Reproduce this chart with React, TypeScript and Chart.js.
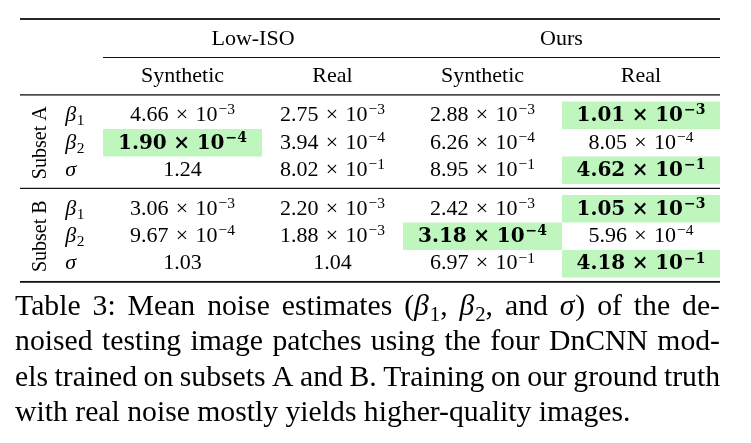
import { useEffect, useRef } from 'react';
import { Chart, registerables } from 'chart.js';

Chart.register(...registerables);

// ---------- data ----------
const groupLabels = ['Low-ISO', 'Ours'];
const columnLabels = ['Synthetic', 'Real', 'Synthetic', 'Real'];
const subsetLabels = ['Subset A', 'Subset B'];
const paramLabels = ['β_1', 'β_2', 'σ'];

const subsetA_beta1 = [4.66e-3, 2.75e-3, 2.88e-3, 1.01e-3];
const subsetA_beta2 = [1.90e-4, 3.94e-4, 6.26e-4, 8.05e-4];
const subsetA_sigma = [1.24, 8.02e-1, 8.95e-1, 4.62e-1];
const subsetB_beta1 = [3.06e-3, 2.20e-3, 2.42e-3, 1.05e-3];
const subsetB_beta2 = [9.67e-4, 1.88e-3, 3.18e-4, 5.96e-4];
const subsetB_sigma = [1.03, 1.04, 6.97e-1, 4.18e-1];

// index of the best (highlighted, bold) column for each parameter row
const bestA = [3, 0, 3];
const bestB = [3, 2, 3];

const captionLines = [
  'Table 3: Mean noise estimates (β_1, β_2, and σ) of the de-',
  'noised testing image patches using the four DnCNN mod-',
  'els trained on subsets A and B. Training on our ground truth',
  'with real noise mostly yields higher-quality images.',
];

// ---------- layout (in scale units) ----------
const COL_EDGES = [0, 1.031, 1.945, 2.976, 4];
const X_MIN = -0.5381;
const X_MAX = 4;
const X_SUBSET_LABEL = -0.405;
const X_PARAM_LABEL = -0.245;
const X_CAPTION_LEFT = -0.57;
const Y_MAX = 15.42;
const Y_TOP_RULE = 0;
const Y_GROUP = 0.945;
const Y_CMID = 1.4;
const Y_COLHEAD = 2.28;
const Y_MID = 2.76;
const SUBSET_START = [3.0, 6.4];
const Y_SEP = 6.16;
const Y_BOTTOM = 9.56;
const BASELINE_OFF = 0.21;
const CAPTION_Y0 = 10.76;
const CAPTION_STEP = 1.29;

const HIGHLIGHT = 'rgb(190,246,190)';
const SERIF = "'Liberation Serif', 'Times New Roman', Times, serif";
const BOLD_SERIF = "'DejaVu Serif', serif";

type Seg = { t: string; kind: 'n' | 'i' | 's' };

function parseRich(text: string): Seg[] {
  const segs: Seg[] = [];
  let run = '';
  for (let i = 0; i < text.length; i++) {
    const ch = text[i];
    if (ch === '_') {
      if (run) { segs.push({ t: run, kind: 'n' }); run = ''; }
      segs.push({ t: text[i + 1], kind: 's' });
      i++;
    } else if (ch === 'β' || ch === 'σ') {
      if (run) { segs.push({ t: run, kind: 'n' }); run = ''; }
      segs.push({ t: ch, kind: 'i' });
    } else {
      run += ch;
    }
  }
  if (run) segs.push({ t: run, kind: 'n' });
  return segs;
}

function setFont(ctx: CanvasRenderingContext2D, kind: string, size: number) {
  if (kind === 'i') ctx.font = `italic ${size}px ${SERIF}`;
  else if (kind === 's') ctx.font = `${size * 0.7}px ${SERIF}`;
  else ctx.font = `${size}px ${SERIF}`;
}

function drawRich(ctx: CanvasRenderingContext2D, text: string, x: number, y: number, size: number, draw: boolean): number {
  let w = 0;
  for (const s of parseRich(text)) {
    setFont(ctx, s.kind, size);
    const dy = s.kind === 's' ? size * 0.2 : 0;
    if (draw) ctx.fillText(s.t, x + w, y + dy);
    w += ctx.measureText(s.t).width + (s.kind === 'i' ? size * 0.03 : 0);
  }
  return w;
}

function fmt(v: number): { mant: string; exp: number | null } {
  if (v >= 1) return { mant: v.toFixed(2), exp: null };
  let e = Math.floor(Math.log10(v));
  let m = v / Math.pow(10, e);
  if (m >= 9.995) { m /= 10; e += 1; }
  return { mant: m.toFixed(2), exp: e };
}

function drawNumber(ctx: CanvasRenderingContext2D, v: number, cx: number, by: number, bold: boolean) {
  const size = bold ? 20 : 22;
  const supSize = bold ? 14 : 15.5;
  const raise = bold ? 0.34 : 0.31;
  const main = bold ? `bold ${size}px ${BOLD_SERIF}` : `${size}px ${SERIF}`;
  const sup = bold ? `bold ${supSize}px ${BOLD_SERIF}` : `${supSize}px ${SERIF}`;
  const { mant, exp } = fmt(v);
  ctx.textAlign = 'left';
  ctx.font = main;
  if (exp === null) {
    const w = ctx.measureText(mant).width;
    ctx.fillText(mant, cx - w / 2, by);
    return;
  }
  const gap = size * 0.33;
  const wm = ctx.measureText(mant).width;
  const wx = ctx.measureText('×').width;
  const w10 = ctx.measureText('10').width;
  const supText = (exp < 0 ? '−' : '') + Math.abs(exp);
  ctx.font = sup;
  const ws = ctx.measureText(supText).width;
  const total = wm + gap + wx + gap + w10 + 1 + ws;
  let x = cx - total / 2;
  ctx.font = main;
  ctx.fillText(mant, x, by); x += wm + gap;
  ctx.fillText('×', x, by); x += wx + gap;
  ctx.fillText('10', x, by); x += w10 + 1;
  ctx.font = sup;
  ctx.fillText(supText, x, by - size * raise);
}

const tablePlugin = {
  id: 'tableDraw',
  afterDraw(chart: any) {
    const ctx: CanvasRenderingContext2D = chart.ctx;
    const xs = chart.scales.x;
    const ys = chart.scales.y;
    const X = (v: number) => xs.getPixelForValue(v);
    const Y = (v: number) => ys.getPixelForValue(v);
    const colCenter = (c: number) => X((COL_EDGES[c] + COL_EDGES[c + 1]) / 2);
    const subsets = [
      { rows: [subsetA_beta1, subsetA_beta2, subsetA_sigma], best: bestA },
      { rows: [subsetB_beta1, subsetB_beta2, subsetB_sigma], best: bestB },
    ];

    ctx.save();
    ctx.fillStyle = '#000';
    ctx.textBaseline = 'alphabetic';

    // highlighted cells
    subsets.forEach((s, si) => {
      s.best.forEach((c, r) => {
        const top = SUBSET_START[si] + r;
        ctx.fillStyle = HIGHLIGHT;
        const x0 = X(COL_EDGES[c]);
        const x1 = X(COL_EDGES[c + 1]);
        const y0 = Y(top);
        const y1 = Y(top + 1);
        ctx.fillRect(x0, y0, x1 - x0, y1 - y0);
      });
    });

    // rules
    ctx.fillStyle = '#111';
    const rule = (yv: number, t: number, a = X_MIN, b = X_MAX) => {
      const y = Y(yv);
      ctx.fillRect(X(a), y - t / 2, X(b) - X(a), t);
    };
    rule(Y_TOP_RULE, 1.8);
    rule(Y_CMID, 1.0, COL_EDGES[0], COL_EDGES[4]);
    rule(Y_MID, 1.3);
    rule(Y_SEP, 1.2);
    rule(Y_BOTTOM, 1.8);

    ctx.fillStyle = '#000';
    // group headers
    ctx.font = `22px ${SERIF}`;
    ctx.textAlign = 'center';
    groupLabels.forEach((g, gi) => {
      const cx = (X(COL_EDGES[gi * 2]) + X(COL_EDGES[gi * 2 + 2])) / 2;
      ctx.fillText(g, cx, Y(Y_GROUP));
    });
    columnLabels.forEach((c, ci) => {
      ctx.fillText(c, colCenter(ci), Y(Y_COLHEAD));
    });

    // body
    subsets.forEach((s, si) => {
      ctx.save();
      ctx.translate(X(X_SUBSET_LABEL), Y(SUBSET_START[si] + 1.5));
      ctx.rotate(-Math.PI / 2);
      ctx.font = `20px ${SERIF}`;
      ctx.textAlign = 'center';
      ctx.textBaseline = 'middle';
      ctx.fillText(subsetLabels[si], 0, 0);
      ctx.restore();

      s.rows.forEach((vals, r) => {
        const by = Y(SUBSET_START[si] + r + 0.5 + BASELINE_OFF);
        ctx.textAlign = 'left';
        drawRich(ctx, paramLabels[r], X(X_PARAM_LABEL), by, 22, true);
        vals.forEach((v, c) => {
          drawNumber(ctx, v, colCenter(c), by, s.best[r] === c);
        });
      });
    });

    // caption (justified)
    const size = 29.7;
    const left = X(X_CAPTION_LEFT);
    const right = X(X_MAX);
    ctx.textAlign = 'left';
    captionLines.forEach((line, li) => {
      const by = Y(CAPTION_Y0 + li * CAPTION_STEP);
      const words = line.split(' ');
      const widths = words.map((w) => drawRich(ctx, w, 0, 0, size, false));
      const sum = widths.reduce((a, b) => a + b, 0);
      ctx.font = `${size}px ${SERIF}`;
      const justify = li < captionLines.length - 1;
      const gap = justify ? (right - left - sum) / (words.length - 1) : ctx.measureText(' ').width;
      let x = left;
      words.forEach((w, wi) => {
        drawRich(ctx, w, x, by, size, true);
        x += widths[wi] + gap;
      });
    });

    ctx.restore();
  },
};

export default function App() {
  const ref = useRef<HTMLCanvasElement | null>(null);
  useEffect(() => {
    document.body.style.margin = '0';
    let chart: Chart | null = null;
    let cancelled = false;
    const fontsToLoad = [
      `22px ${SERIF}`,
      `italic 22px ${SERIF}`,
      `bold 20px ${BOLD_SERIF}`,
    ];
    const start = () => {
      if (cancelled || !ref.current) return;
      chart = new Chart(ref.current, {
        type: 'scatter',
        data: { datasets: [{ data: [], pointRadius: 0 }] },
        options: {
          responsive: false,
          animation: false,
          devicePixelRatio: 1,
          layout: { padding: { left: 20, right: 31, top: 19, bottom: 0 } },
          plugins: { legend: { display: false }, tooltip: { enabled: false } },
          scales: {
            x: { type: 'linear', min: X_MIN, max: X_MAX, display: false },
            y: { type: 'linear', min: 0, max: Y_MAX, reverse: true, display: false },
          },
        },
        plugins: [tablePlugin],
      });
    };
    Promise.all(fontsToLoad.map((f) => document.fonts.load(f, 'βσ×Ab')))
      .catch(() => null)
      .then(() => start());
    return () => {
      cancelled = true;
      if (chart) chart.destroy();
    };
  }, []);
  return (
    <div>
      <canvas ref={ref} width={751} height={443} style={{ display: 'block' }} />
      <span style={{ position: 'absolute', left: -9999, top: 0, fontFamily: SERIF }}>
        Ab <i>βσ</i>
      </span>
    </div>
  );
}
